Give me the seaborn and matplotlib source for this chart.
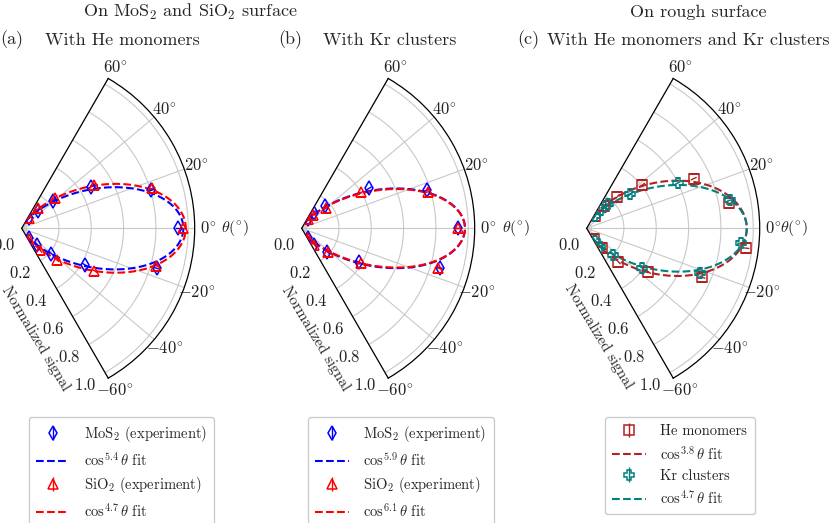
import numpy as np
import matplotlib
matplotlib.use('Agg')
import matplotlib.pyplot as plt
from matplotlib.lines import Line2D
import seaborn as sns

sns.set_style('white')
plt.rcParams['font.family'] = ['cmr10', 'DejaVu Serif']
plt.rcParams['mathtext.fontset'] = 'cm'
plt.rcParams['axes.formatter.use_mathtext'] = True
plt.rcParams['axes.unicode_minus'] = False

# ---------------- data (angles in degrees, normalized signal) ----------------
a_mos2_theta = [55, 47, 41, 31, 16.4, 0, -16.5, -30, -40.5, -46, -55]
a_mos2_r = [0.05, 0.12, 0.23, 0.47, 0.806, 0.936, 0.84, 0.42, 0.21, 0.11, 0.045]
a_sio2_theta = [56, 50, 42.6, 31.3, 17, 0, -15.6, -30.3, -42, -50, -56]
a_sio2_r = [0.05, 0.13, 0.25, 0.49, 0.815, 0.967, 0.835, 0.49, 0.26, 0.147, 0.05]
a_fit_n = [5.4, 4.7]
a_fit_amp = [0.97, 0.985]

b_mos2_theta = [57, 52, 43.4, 30.7, 16.9, 0, -15.9, -30.7, -42.4, -51.8, -57]
b_mos2_r = [0.04, 0.089, 0.17, 0.454, 0.78, 0.936, 0.857, 0.38, 0.186, 0.098, 0.04]
b_sio2_theta = [57, 51, 39.8, 31, 16.1, 0, -16.3, -30.7, -42.4, -51.8, -57]
b_sio2_r = [0.04, 0.077, 0.164, 0.40, 0.78, 0.936, 0.848, 0.394, 0.19, 0.098, 0.04]
b_fit_n = [5.9, 6.1]
b_fit_amp = [0.98, 0.98]

c_he_theta = [56, 52, 45.9, 37.9, 24.9, 9.9, -7.1, -22.9, -35.2, -46.6, -53, -57]
c_he_r = [0.06, 0.146, 0.243, 0.406, 0.70, 0.863, 0.964, 0.747, 0.436, 0.255, 0.126, 0.05]
c_kr_theta = [56, 52.6, 49.2, 38.1, 26.5, 11.1, -5.6, -21.4, -35.6, -45, -54, -57]
c_kr_r = [0.06, 0.114, 0.17, 0.31, 0.60, 0.876, 0.926, 0.72, 0.39, 0.204, 0.112, 0.06]
c_fit_n = [3.8, 4.7]
c_fit_amp = [0.96, 0.96]

err = 0.02
theta_ticks = [-60, -40, -20, 0, 20, 40, 60]
r_ticks = [0.0, 0.2, 0.4, 0.6, 0.8, 1.0]

W, H = 831, 523
fig = plt.figure(figsize=(W / 100, H / 100), dpi=100)

R = 173.0
apex_y = 228.3
apex_x = [21.7, 301.7, 586.7]

fit_theta = np.radians(np.linspace(-60, 60, 361))


def make_ax(x0):
    side = 2 * R * np.sin(np.radians(60))
    off = (side - R) / 2.0
    rect = [(x0 - off) / W, (H - (apex_y + side / 2)) / H, side / W, side / H]
    ax = fig.add_axes(rect, projection='polar')
    ax.set_thetamin(-60)
    ax.set_thetamax(60)
    ax.set_ylim(-0.03, 1.04)
    ax.set_thetagrids(theta_ticks, [r'$%d^{\circ}$' % t for t in theta_ticks])
    ax.set_yticks(r_ticks)
    ax.set_yticklabels([r'$%.1f$' % v for v in r_ticks])
    ax.grid(True, color='#c8c8c8', lw=0.8)
    for s in ax.spines.values():
        s.set_color('black')
        s.set_linewidth(0.9)
    ax.tick_params(axis='x', pad=-1, colors='#222222', labelsize=12)
    ax.tick_params(axis='y', colors='#222222', labelsize=12)
    return ax


def draw(ax, th, r, marker, color, fit_n, fit_amp, exp_label, fit_label):
    ax.errorbar(np.radians(th), r, yerr=err, fmt=marker, mfc='none',
                mec=color, ecolor=color, ms=7.5, mew=1.1, elinewidth=1.0,
                capsize=0, ls='none', zorder=4)
    fit = fit_amp * np.cos(fit_theta) ** fit_n
    sns.lineplot(x=fit_theta, y=fit, ax=ax, color=color, ls='--', lw=1.5,
                 sort=False, legend=False, zorder=3)
    h_exp = ax.errorbar([], [], yerr=[], fmt=marker, mfc='none', mec=color,
                        ecolor=color, ms=7.5, mew=1.1, elinewidth=1.0, capsize=0)
    h_fit = Line2D([], [], color=color, ls='--', lw=1.5)
    return [(h_exp, exp_label), (h_fit, fit_label)]


panels = [
    (a_mos2_theta, a_mos2_r, a_sio2_theta, a_sio2_r, a_fit_n, a_fit_amp,
     'd', 'blue', '^', 'red',
     [r'MoS$_2$ (experiment)', r'$\cos^{5.4}\theta$ fit',
      r'SiO$_2$ (experiment)', r'$\cos^{4.7}\theta$ fit']),
    (b_mos2_theta, b_mos2_r, b_sio2_theta, b_sio2_r, b_fit_n, b_fit_amp,
     'd', 'blue', '^', 'red',
     [r'MoS$_2$ (experiment)', r'$\cos^{5.9}\theta$ fit',
      r'SiO$_2$ (experiment)', r'$\cos^{6.1}\theta$ fit']),
    (c_he_theta, c_he_r, c_kr_theta, c_kr_r, c_fit_n, c_fit_amp,
     's', '#b22222', 'P', '#008080',
     [r'He monomers', r'$\cos^{3.8}\theta$ fit',
      r'Kr clusters', r'$\cos^{4.7}\theta$ fit']),
]

legend_x = [28.5, 308, 605]
theta_label_x = [221, 502, 780]
ylabel_xy = [(36, 338), (316, 338), (599, 336)]

for i, (t1, r1, t2, r2, fn, fa, m1, c1, m2, c2, labels) in enumerate(panels):
    ax = make_ax(apex_x[i])
    items = draw(ax, t1, r1, m1, c1, fn[0], fa[0], labels[0], labels[1])
    items += draw(ax, t2, r2, m2, c2, fn[1], fa[1], labels[2], labels[3])
    ax.set_xlabel('')
    ax.set_ylabel('')
    leg = ax.legend([h for h, _ in items], [l for _, l in items],
                    loc='upper left',
                    bbox_to_anchor=(legend_x[i] / W, 1 - 417 / H),
                    bbox_transform=fig.transFigure, fontsize=10.5,
                    frameon=True, fancybox=True, framealpha=1,
                    edgecolor='#cccccc', handlelength=2.3,
                    handletextpad=1.0,
                    labelspacing=0.45, borderpad=0.5, borderaxespad=0)
    fig.text(theta_label_x[i] / W, 1 - apex_y / H, r'$\theta(^{\circ})$',
             fontsize=11.5, ha='left', va='center')
    fig.text(ylabel_xy[i][0] / W, 1 - ylabel_xy[i][1] / H, 'Normalized signal',
             fontsize=11, rotation=-59, ha='center', va='center',
             rotation_mode='anchor')

# titles
fig.text(190 / W, 1 - 12 / H, r'On MoS$_2$ and SiO$_2$ surface', fontsize=13,
         ha='center', va='center')
fig.text(698 / W, 1 - 12 / H, 'On rough surface', fontsize=13,
         ha='center', va='center')
fig.text(0 / W, 1 - 40 / H, '(a)', fontsize=13, ha='left', va='center')
fig.text(122 / W, 1 - 40 / H, 'With He monomers', fontsize=13, ha='center',
         va='center')
fig.text(278 / W, 1 - 40 / H, '(b)', fontsize=13, ha='left', va='center')
fig.text(390 / W, 1 - 40 / H, 'With Kr clusters', fontsize=13, ha='center',
         va='center')
fig.text(517 / W, 1 - 40 / H, '(c)', fontsize=13, ha='left', va='center')
fig.text(688 / W, 1 - 40 / H, 'With He monomers and Kr clusters', fontsize=13,
         ha='center', va='center')

fig.savefig('out.png', dpi=100)
